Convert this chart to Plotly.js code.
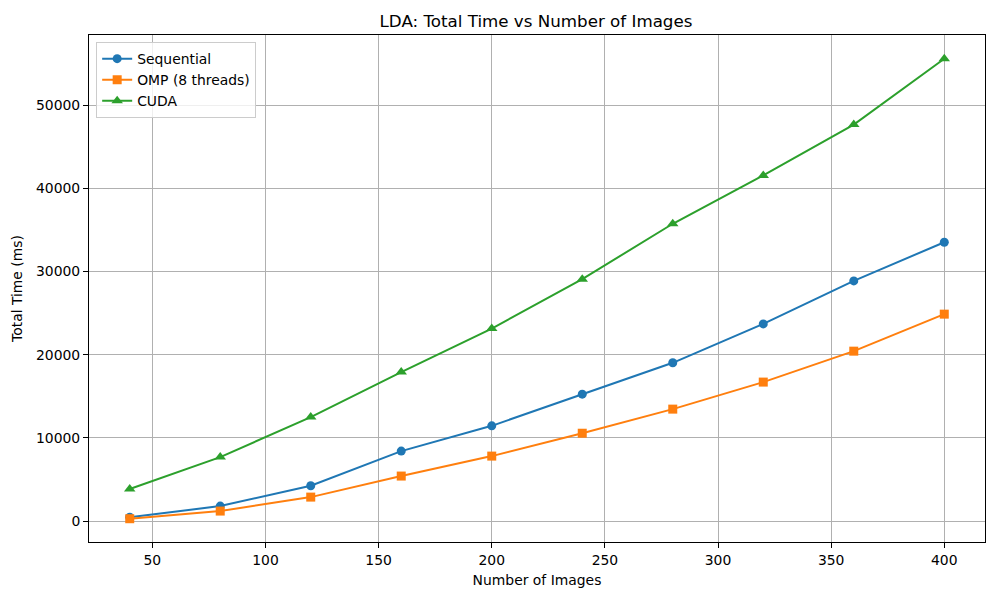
<!DOCTYPE html>
<html>
<head>
<meta charset="utf-8">
<script src="https://cdn.plot.ly/plotly-3.0.1.min.js"></script>
<style>
  body { margin: 0; background: #fff; }
  #chart { width: 1000px; height: 600px; }
</style>
</head>
<body>
<div id="chart"></div>
<script>
var images = [40, 80, 120, 160, 200, 240, 280, 320, 360, 400];

// total time in ms
var sequential = [450, 1800, 4240, 8410, 11450, 15260, 19030, 23710, 28880, 33530];
var omp = [280, 1200, 2880, 5410, 7810, 10560, 13460, 16710, 20430, 24880];
var cuda = [3850, 7690, 12500, 17910, 23150, 29090, 35750, 41560, 47680, 55600];

var seriesNames = ['Sequential', 'OMP (8 threads)', 'CUDA'];
var colors = ['#1f77b4', '#ff7f0e', '#2ca02c'];
var symbols = ['circle', 'square', 'triangle-up'];

var font = {
  family: '"DejaVu Sans", sans-serif',
  size: 13.9,
  color: '#000'
};

function trace(y, k) {
  return {
    x: images,
    y: y,
    name: seriesNames[k],
    type: 'scatter',
    mode: 'lines+markers',
    line: { color: colors[k], width: 2 },
    marker: { color: colors[k], symbol: symbols[k], size: k == 2 ? 10 : 9 }
  };
}

var data = [trace(sequential, 0), trace(omp, 1), trace(cuda, 2)];

var axisStyle = {
  showline: true,
  linecolor: '#000',
  linewidth: 1,
  mirror: true,
  ticks: 'outside',
  ticklen: 5,
  tickwidth: 1,
  tickcolor: '#000',
  showgrid: true,
  gridcolor: '#b0b0b0',
  gridwidth: 1,
  zeroline: false,
  tickfont: font
};

var layout = {
  width: 1000,
  height: 600,
  font: font,
  paper_bgcolor: '#fff',
  plot_bgcolor: '#fff',
  margin: { l: 89, r: 15, t: 35, b: 58, pad: 0 },
  title: {
    text: 'LDA: Total Time vs Number of Images',
    font: { family: font.family, size: 16.7, color: '#000' },
    x: 0.536,
    xanchor: 'center',
    y: 0.965,
    yanchor: 'middle'
  },
  xaxis: Object.assign({}, axisStyle, {
    range: [22, 418],
    tick0: 50,
    dtick: 50,
    title: { text: 'Number of Images', font: font, standoff: 8 }
  }),
  yaxis: Object.assign({}, axisStyle, {
    range: [-2520, 58450],
    tick0: 0,
    dtick: 10000,
    tickformat: 'd',
    title: { text: 'Total Time (ms)', font: font, standoff: 10 }
  }),
  showlegend: true,
  legend: {
    x: 0.008,
    y: 0.986,
    xanchor: 'left',
    yanchor: 'top',
    bgcolor: 'rgba(255,255,255,0.8)',
    bordercolor: '#cccccc',
    borderwidth: 1,
    font: font,
    tracegroupgap: 0
  }
};

Plotly.newPlot('chart', data, layout, { displayModeBar: false, staticPlot: true });
</script>
</body>
</html>
